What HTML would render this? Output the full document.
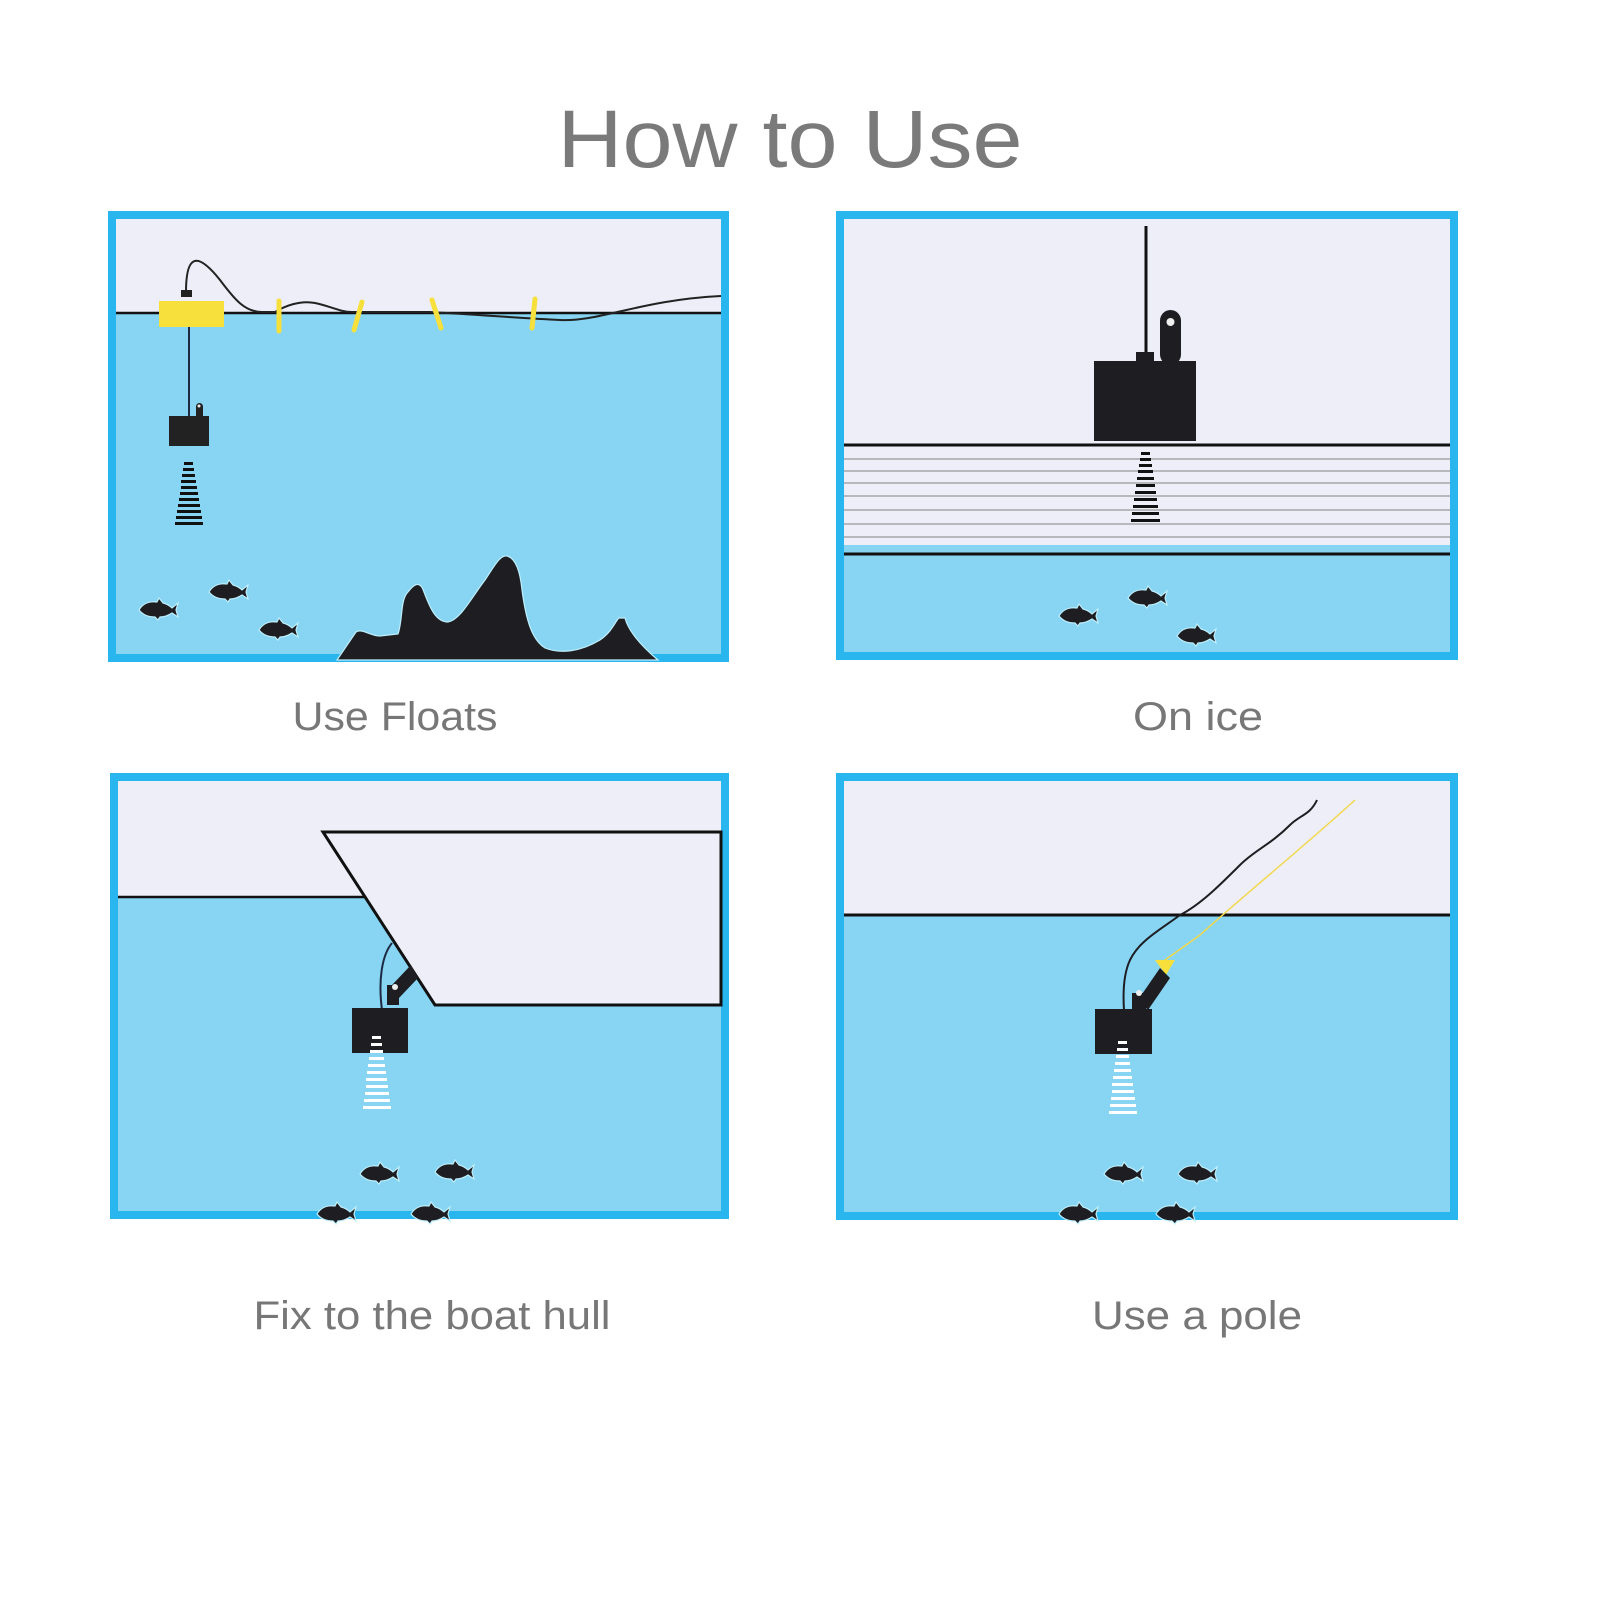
<!DOCTYPE html>
<html><head><meta charset="utf-8"><style>
html,body{margin:0;padding:0;background:#fff;}
svg{display:block;}
</style></head><body>
<svg width="1600" height="1600" viewBox="0 0 1600 1600" xmlns="http://www.w3.org/2000/svg">
<defs>
<symbol id="fish" viewBox="0 0 40 22" overflow="visible">
<path d="M1,12 C5,5 12,3 19,4 L21,0 L25,5 C29,6 32,8 34,10 L40,5 L38,12 L40,19 L34,15 C31,17 27,19 22,19 L20,22 L17,19 C11,19 5,17 1,12 Z" fill="#1e1e22" stroke="#bfeefc" stroke-width="1.2"/>
</symbol>
</defs>
<rect width="1600" height="1600" fill="#fff"/>
<text x="790" y="167" text-anchor="middle" font-family="Liberation Sans, sans-serif" font-size="82" fill="#7a7a7a" textLength="465" lengthAdjust="spacingAndGlyphs">How to Use</text>

<!-- Panel 1 -->
<rect x="112" y="215" width="613" height="443" fill="#eeeef8" stroke="#29b5ee" stroke-width="8"/>
<rect x="116" y="313" width="605" height="341" fill="#87d5f2"/>
<line x1="116" y1="313" x2="721" y2="313" stroke="#111" stroke-width="2.5"/>
<path d="M186,292 C186,250 200,255 220,280 C235,300 245,312 262,312 L275,312 C285,306 300,300 315,303 C330,306 340,312 352,312 L430,312 C480,315 520,318 560,320 C600,322 640,300 721,296" fill="none" stroke="#222" stroke-width="2"/>
<rect x="181" y="290" width="11" height="7" fill="#222"/>
<rect x="159" y="301" width="65" height="26" fill="#f7e03c"/>
<g stroke="#f7e03c" stroke-width="5" stroke-linecap="round">
<line x1="279" y1="301" x2="279" y2="331"/>
<line x1="362" y1="302" x2="354" y2="330"/>
<line x1="432" y1="300" x2="441" y2="328"/>
<line x1="535" y1="299" x2="532" y2="328"/>
</g>
<line x1="189" y1="327" x2="189" y2="420" stroke="#1e2a44" stroke-width="2"/>
<rect x="169" y="416" width="40" height="30" fill="#222"/>
<rect x="196" y="403" width="7" height="16" rx="3.5" fill="#222"/>
<circle cx="199" cy="406" r="1.5" fill="#eee"/>
<g fill="#111">
<rect x="184" y="462" width="9" height="3"/><rect x="183" y="468" width="11" height="3"/><rect x="182" y="474" width="13" height="3"/><rect x="181" y="480" width="15" height="3"/><rect x="181" y="486" width="16" height="3"/><rect x="180" y="492" width="18" height="3"/><rect x="179" y="498" width="20" height="3"/><rect x="178" y="504" width="22" height="3"/><rect x="177" y="510" width="24" height="3"/><rect x="176" y="516" width="26" height="3"/><rect x="175" y="522" width="28" height="3"/>
</g>
<path d="M337,660 L356,632 C362,628 370,636 380,636 L398,634 C403,620 400,600 408,592 C414,584 420,580 424,592 C430,608 436,622 448,622 C460,620 470,600 485,580 C495,565 500,555 507,556 C515,558 520,570 522,590 C526,620 532,640 545,648 C560,654 580,652 600,640 C612,632 616,620 619,618 L625,618 C628,630 640,645 658,660 Z" fill="#1e1e22" stroke="#bfeefc" stroke-width="1.2"/>
<use href="#fish" x="138" y="598" width="40" height="22"/>
<use href="#fish" x="208" y="580" width="40" height="22"/>
<use href="#fish" x="258" y="618" width="40" height="22"/>
<text x="395" y="730" text-anchor="middle" font-family="Liberation Sans, sans-serif" font-size="40" fill="#777" textLength="205" lengthAdjust="spacingAndGlyphs">Use Floats</text>

<!-- Panel 2 -->
<rect x="840" y="215" width="614" height="441" fill="#eeeef8" stroke="#29b5ee" stroke-width="8"/>
<rect x="844" y="545" width="606" height="107" fill="#87d5f2"/>
<g stroke="#999" stroke-width="1.3">
<line x1="844" y1="459" x2="1450" y2="459"/><line x1="844" y1="471" x2="1450" y2="471"/><line x1="844" y1="483" x2="1450" y2="483"/><line x1="844" y1="496" x2="1450" y2="496"/><line x1="844" y1="510" x2="1450" y2="510"/><line x1="844" y1="524" x2="1450" y2="524"/><line x1="844" y1="537" x2="1450" y2="537"/>
</g>
<line x1="844" y1="445" x2="1450" y2="445" stroke="#111" stroke-width="3"/>
<line x1="844" y1="554" x2="1450" y2="554" stroke="#111" stroke-width="3"/>
<line x1="1146" y1="226" x2="1146" y2="356" stroke="#111" stroke-width="3"/>
<rect x="1094" y="361" width="102" height="80" fill="#1e1e22"/>
<rect x="1136" y="352" width="18" height="12" fill="#1e1e22"/>
<rect x="1160" y="310" width="21" height="55" rx="10.5" fill="#1e1e22"/>
<circle cx="1170.5" cy="322" r="4" fill="#eee"/>
<g fill="#111">
<rect x="1141" y="452" width="9" height="3"/><rect x="1140" y="458" width="11" height="3"/><rect x="1139" y="464" width="13" height="3"/><rect x="1138" y="470" width="15" height="3"/><rect x="1137" y="477" width="17" height="3"/><rect x="1136" y="484" width="19" height="3"/><rect x="1135" y="491" width="21" height="3"/><rect x="1134" y="498" width="23" height="3"/><rect x="1133" y="505" width="25" height="3"/><rect x="1132" y="512" width="27" height="3"/><rect x="1131" y="519" width="29" height="3"/>
</g>
<use href="#fish" x="1058" y="604" width="40" height="22"/>
<use href="#fish" x="1127" y="586" width="40" height="22"/>
<use href="#fish" x="1176" y="624" width="40" height="22"/>
<text x="1198" y="730" text-anchor="middle" font-family="Liberation Sans, sans-serif" font-size="40" fill="#777" textLength="130" lengthAdjust="spacingAndGlyphs">On ice</text>

<!-- Panel 3 -->
<rect x="114" y="777" width="611" height="438" fill="#eeeef8" stroke="#29b5ee" stroke-width="8"/>
<rect x="118" y="897" width="603" height="314" fill="#87d5f2"/>
<line x1="118" y1="897" x2="380" y2="897" stroke="#111" stroke-width="2.5"/>
<polygon points="323,832 721,832 721,1005 435,1005" fill="#eeeef8" stroke="#111" stroke-width="3" stroke-linejoin="miter"/>
<path d="M382,1010 C378,980 382,955 392,943" fill="none" stroke="#1e2a44" stroke-width="2"/>
<rect x="387" y="985" width="12" height="20" fill="#1e1e22"/>
<path d="M392,985 L411,965 L418,978 L399,998 Z" fill="#1e1e22"/>
<circle cx="395" cy="987" r="3" fill="#eee"/>
<rect x="352" y="1008" width="56" height="45" fill="#1e1e22"/>
<g fill="#fff">
<rect x="372" y="1036" width="9" height="3"/><rect x="371" y="1043" width="11" height="3"/><rect x="370" y="1050" width="13" height="3"/><rect x="369" y="1057" width="15" height="3"/><rect x="368" y="1064" width="17" height="3"/><rect x="367" y="1071" width="19" height="3"/><rect x="366" y="1078" width="21" height="3"/><rect x="366" y="1085" width="22" height="3"/><rect x="365" y="1092" width="24" height="3"/><rect x="364" y="1099" width="26" height="3"/><rect x="363" y="1106" width="28" height="3"/>
</g>
<use href="#fish" x="359" y="1162" width="40" height="22"/>
<use href="#fish" x="434" y="1160" width="40" height="22"/>
<use href="#fish" x="316" y="1202" width="40" height="22"/>
<use href="#fish" x="410" y="1202" width="40" height="22"/>
<text x="432" y="1329" text-anchor="middle" font-family="Liberation Sans, sans-serif" font-size="40" fill="#777" textLength="357" lengthAdjust="spacingAndGlyphs">Fix to the boat hull</text>

<!-- Panel 4 -->
<rect x="840" y="777" width="614" height="439" fill="#eeeef8" stroke="#29b5ee" stroke-width="8"/>
<rect x="844" y="915" width="606" height="297" fill="#87d5f2"/>
<line x1="844" y1="915" x2="1450" y2="915" stroke="#111" stroke-width="3"/>
<path d="M1317,800 C1310,815 1300,815 1290,825 C1270,845 1255,850 1240,865 C1220,885 1200,905 1180,915 C1160,930 1140,940 1130,960 C1123,975 1123,995 1124,1010" fill="none" stroke="#1e1e22" stroke-width="2"/>
<path d="M1355,800 C1300,850 1250,890 1200,935 L1165,960" fill="none" stroke="#f2d84a" stroke-width="1.5"/>
<path d="M1155,960 L1175,960 L1166,975 Z" fill="#f7e03c"/>
<path d="M1138,1000 L1160,968 L1170,978 L1148,1010 Z" fill="#1e1e22"/>
<rect x="1132" y="993" width="14" height="18" fill="#1e1e22"/>
<circle cx="1139" cy="993" r="3" fill="#eee"/>
<rect x="1095" y="1009" width="57" height="45" fill="#1e1e22"/>
<g fill="#fff">
<rect x="1118" y="1041" width="9" height="3"/><rect x="1117" y="1048" width="11" height="3"/><rect x="1116" y="1055" width="13" height="3"/><rect x="1115" y="1062" width="15" height="3"/><rect x="1114" y="1069" width="17" height="3"/><rect x="1113" y="1076" width="19" height="3"/><rect x="1112" y="1083" width="21" height="3"/><rect x="1112" y="1090" width="22" height="3"/><rect x="1111" y="1097" width="24" height="3"/><rect x="1110" y="1104" width="26" height="3"/><rect x="1109" y="1111" width="28" height="3"/>
</g>
<use href="#fish" x="1103" y="1162" width="40" height="22"/>
<use href="#fish" x="1177" y="1162" width="40" height="22"/>
<use href="#fish" x="1058" y="1202" width="40" height="22"/>
<use href="#fish" x="1155" y="1202" width="40" height="22"/>
<text x="1197" y="1329" text-anchor="middle" font-family="Liberation Sans, sans-serif" font-size="40" fill="#777" textLength="210" lengthAdjust="spacingAndGlyphs">Use a pole</text>
</svg>
</body></html>
